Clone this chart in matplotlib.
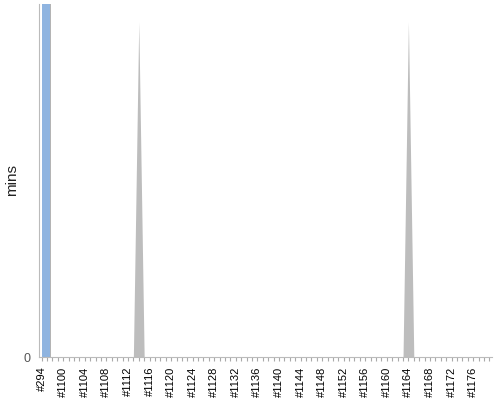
import matplotlib

matplotlib.use("Agg")
import matplotlib.pyplot as plt
import numpy as np

# categories: build numbers, first one is the old #294 build
builds = ["#294"] + [f"#{n}" for n in range(1097, 1180)]
# blue series: only the first build has a value (runs off the top)
bar_mins = [150.0] + [0.0] * (len(builds) - 1)
# grey area series: two lone spikes
area_mins = [0.0] * len(builds)
area_mins[builds.index("#1114")] = 95.0
area_mins[builds.index("#1164")] = 95.0

plt.rcParams["font.family"] = ["Liberation Sans", "DejaVu Sans"]

fig = plt.figure(figsize=(5, 4), dpi=100)
ax = fig.add_axes([39 / 500, 43 / 400, 453 / 500, 353 / 400])

x = np.arange(len(builds))
ax.fill_between(x, area_mins, color="#bdbdbd", lw=0)
ax.bar(x[:1], bar_mins[:1], width=1.75, align="edge", color="#b4b4b4", lw=0)
ax.bar(x[:1], bar_mins[:1], width=1.5, align="edge", color="#8fb4e0", lw=0)

ax.set_xlim(-0.5, len(builds) - 0.5)
ax.set_ylim(0, 100)
ax.set_xticks(x)
ax.set_xticklabels([b if i % 4 == 0 else "" for i, b in enumerate(builds)],
                   rotation=90, fontsize=8)
ax.set_yticks([0])
ax.tick_params(axis="x", length=3, width=0.8, color="#aaaaaa", pad=4)
ax.tick_params(axis="y", length=0, labelsize=9, labelcolor="#555555", pad=6)
ax.set_ylabel("mins", fontsize=11, color="#222222")
ax.yaxis.set_label_coords(-20 / 453, 0.5)

for s in ("top", "right"):
    ax.spines[s].set_visible(False)
for s in ("left", "bottom"):
    ax.spines[s].set_color("#bbbbbb")

fig.savefig("out.png", dpi=100)
